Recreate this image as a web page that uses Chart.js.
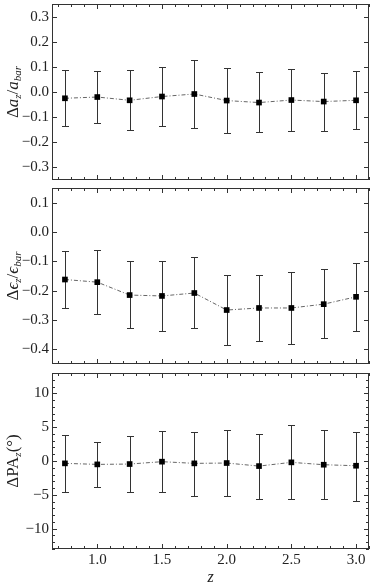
<!DOCTYPE html>
<html>
<head>
<meta charset="utf-8">
<script src="https://cdn.jsdelivr.net/npm/chart.js@4"></script>
<style>
  body { margin: 0; background: #fff; width: 374px; height: 587px; position: relative; overflow: hidden; font-family: "Liberation Serif", serif; }
  canvas { position: absolute; left: 0; }
  .ylab { position: absolute; left: 13px; transform: translate(-50%, -50%) rotate(-90deg); white-space: nowrap; font-size: 17px; color: #222; line-height: 1; }
  .ylab sub { font-size: 11px; vertical-align: -3px; }
</style>
</head>
<body>
<canvas id="c1" width="374" height="184" style="top:0"></canvas>
<canvas id="c2" width="374" height="184" style="top:184px"></canvas>
<canvas id="c3" width="374" height="218" style="top:369px"></canvas>
<div class="ylab" style="top:92px">Δ<i>a</i><sub><i>z</i></sub>/<i>a</i><sub><i>bar</i></sub></div>
<div class="ylab" style="top:276px">Δ<i>ϵ</i><sub><i>z</i></sub>/<i>ϵ</i><sub><i>bar</i></sub></div>
<div class="ylab" style="top:461px">ΔPA<sub><i>z</i></sub>(°)</div>
<script>
const zValues = [0.75, 1.0, 1.25, 1.5, 1.75, 2.0, 2.25, 2.5, 2.75, 3.0];
const xTicks = [1.0, 1.5, 2.0, 2.5, 3.0];

// delta a_z / a_bar
const dA     = [-0.025, -0.020, -0.033, -0.018, -0.008, -0.034, -0.042, -0.032, -0.038, -0.033];
const dAHigh = [0.088, 0.084, 0.087, 0.100, 0.127, 0.096, 0.078, 0.092, 0.077, 0.083];
const dALow  = [-0.137, -0.124, -0.152, -0.135, -0.143, -0.163, -0.160, -0.155, -0.155, -0.148];
const yTicksA = [-0.3, -0.2, -0.1, 0.0, 0.1, 0.2, 0.3];

// delta eps_z / eps_bar
const dE     = [-0.162, -0.171, -0.215, -0.218, -0.208, -0.266, -0.259, -0.259, -0.246, -0.221];
const dEHigh = [-0.065, -0.062, -0.098, -0.098, -0.086, -0.146, -0.145, -0.137, -0.127, -0.105];
const dELow  = [-0.260, -0.280, -0.328, -0.336, -0.328, -0.386, -0.372, -0.381, -0.363, -0.336];
const yTicksE = [-0.4, -0.3, -0.2, -0.1, 0.0, 0.1];

// delta PA_z (deg)
const dPA     = [-0.35, -0.5, -0.45, -0.1, -0.35, -0.3, -0.75, -0.2, -0.55, -0.7];
const dPAHigh = [3.8, 2.8, 3.75, 4.4, 4.25, 4.55, 4.05, 5.25, 4.55, 4.35];
const dPALow  = [-4.6, -3.8, -4.6, -4.65, -5.1, -5.15, -5.6, -5.6, -5.6, -5.9];
const yTicksPA = [-10, -5, 0, 5, 10];

const font = { family: "'Liberation Serif', serif", size: 15 };
const ink = '#333';

function fmt(d) {
  return v => (v < 0 ? '\u2212' : '') + Math.abs(v).toFixed(d);
}

// frame and inward ticks on all four sides
const framePlugin = {
  id: 'frame',
  afterDraw(chart, args, o) {
    const { ctx, chartArea: a, scales: { x, y } } = chart;
    ctx.save();
    ctx.strokeStyle = ink;
    ctx.lineWidth = 1;
    ctx.strokeRect(a.left + 0.5, a.top + 0.5, a.right - a.left - 1, a.bottom - a.top - 1);
    ctx.beginPath();
    const near = (v, list) => list.some(t => Math.abs(t - v) < 1e-6);
    for (let i = Math.ceil(x.min / o.xStep - 1e-6); i * o.xStep <= x.max + 1e-6; i++) {
      const v = i * o.xStep;
      const px = Math.round(x.getPixelForValue(v)) + 0.5;
      const len = near(v, o.xMajor) ? 5 : 3;
      ctx.moveTo(px, a.bottom); ctx.lineTo(px, a.bottom - len);
      ctx.moveTo(px, a.top); ctx.lineTo(px, a.top + len);
    }
    for (let i = Math.ceil(y.min / o.yStep - 1e-6); i * o.yStep <= y.max + 1e-6; i++) {
      const v = i * o.yStep;
      const py = Math.round(y.getPixelForValue(v)) + 0.5;
      const len = near(v, o.yMajor) ? 5 : 3;
      ctx.moveTo(a.left, py); ctx.lineTo(a.left + len, py);
      ctx.moveTo(a.right, py); ctx.lineTo(a.right - len, py);
    }
    ctx.stroke();
    ctx.restore();
  }
};

const errorBars = {
  id: 'errorBars',
  beforeDatasetsDraw(chart, args, o) {
    const { ctx, scales: { x, y } } = chart;
    ctx.save();
    ctx.strokeStyle = '#333';
    ctx.lineWidth = 1;
    ctx.beginPath();
    zValues.forEach((z, i) => {
      const px = Math.round(x.getPixelForValue(z)) + 0.5;
      const top = Math.round(y.getPixelForValue(o.high[i])) + 0.5;
      const bot = Math.round(y.getPixelForValue(o.low[i])) + 0.5;
      ctx.moveTo(px, top); ctx.lineTo(px, bot);
      ctx.moveTo(px - 3.5, top); ctx.lineTo(px + 3.5, top);
      ctx.moveTo(px - 3.5, bot); ctx.lineTo(px + 3.5, bot);
    });
    ctx.stroke();
    ctx.restore();
  }
};

function makePanel(id, p) {
  const last = p.showX;
  new Chart(document.getElementById(id), {
    type: 'line',
    data: {
      datasets: [{
        data: zValues.map((z, i) => ({ x: z, y: p.values[i] })),
        borderColor: '#666',
        borderWidth: 1,
        borderDash: [4, 2, 1, 2],
        tension: 0,
        pointStyle: 'rect',
        pointRadius: 4,
        pointBackgroundColor: '#000',
        pointBorderWidth: 0
      }]
    },
    options: {
      responsive: false,
      animation: false,
      devicePixelRatio: 1,
      layout: { padding: { top: 4, right: 5, bottom: last ? 0 : 4, left: 0 } },
      plugins: {
        legend: { display: false },
        tooltip: { enabled: false },
        frame: { xStep: 0.1, xMajor: xTicks, yStep: p.yStep, yMajor: p.yTicks },
        errorBars: { high: p.high, low: p.low }
      },
      scales: {
        x: {
          type: 'linear',
          min: 0.65,
          max: 3.1,
          display: last,
          grid: { display: false, drawTicks: false },
          border: { display: false },
          afterBuildTicks: s => { s.ticks = xTicks.map(v => ({ value: v })); },
          afterFit: s => {
            s.height = last ? 38 : 0;
            s.paddingLeft = 0; s.paddingRight = 0;
          },
          ticks: { font, color: '#222', padding: 2, maxRotation: 0, autoSkip: false, callback: v => v.toFixed(1) },
          title: { display: true, text: 'z', font: { ...font, size: 16, style: 'italic' }, color: '#222', padding: { top: 0, bottom: 0 } }
        },
        y: {
          min: p.min,
          max: p.max,
          grid: { display: false, drawTicks: false },
          border: { display: false },
          afterBuildTicks: s => { s.ticks = p.yTicks.map(v => ({ value: v })); },
          afterFit: s => {
            s.width = 52;
            s.paddingTop = 0; s.paddingBottom = 0;
          },
          ticks: { font, color: '#222', padding: 3, autoSkip: false, callback: fmt(p.dec) }
        }
      }
    },
    plugins: [framePlugin, errorBars]
  });
}

makePanel('c1', { values: dA, high: dAHigh, low: dALow, min: -0.35, max: 0.35, yTicks: yTicksA, yStep: 0.1, dec: 1, showX: false });
makePanel('c2', { values: dE, high: dEHigh, low: dELow, min: -0.45, max: 0.15, yTicks: yTicksE, yStep: 0.1, dec: 1, showX: false });
makePanel('c3', { values: dPA, high: dPAHigh, low: dPALow, min: -13, max: 13, yTicks: yTicksPA, yStep: 1, dec: 0, showX: true });
</script>
</body>
</html>
